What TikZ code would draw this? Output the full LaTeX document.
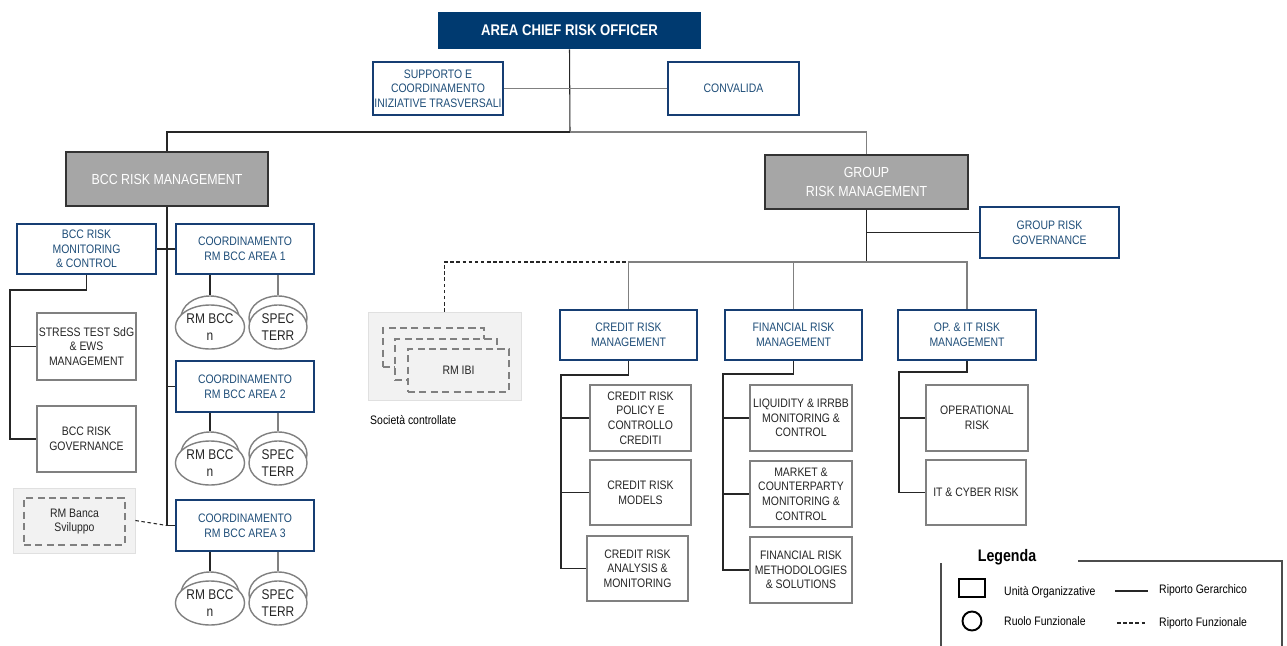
\documentclass[tikz,border=0pt]{standalone}
\usepackage{fontspec}
\setmainfont{Liberation Sans}[FakeStretch=0.85]
\usetikzlibrary{positioning,shapes.geometric}
\definecolor{navy}{RGB}{0,58,112}
\definecolor{unitblue}{RGB}{22,62,115}
\definecolor{unittext}{RGB}{31,78,121}
\definecolor{headgray}{RGB}{166,166,166}
\definecolor{panelgray}{RGB}{242,242,242}

\begin{document}
\begin{tikzpicture}[x=0.2mm,y=-0.2mm,
    every node/.style={font=\fontsize{7}{8.3}\selectfont, align=center, inner sep=0.5pt},
    sz/.style 2 args={minimum width=#1*0.2mm, minimum height=#2*0.2mm},
    unit/.style={draw=unitblue, line width=1.2pt, fill=white, text=unittext},
    office/.style={draw=gray, line width=0.8pt, fill=white, text=black!85},
    head/.style={draw=black!80, line width=0.9pt, fill=headgray, text=white, font=\fontsize{8.3}{10.4}\selectfont},
    role/.style={ellipse, draw=gray, line width=0.8pt, fill=white, text=black!85, sz={58}{44}, font=\fontsize{8}{9.4}\selectfont},
    panel/.style={fill=panelgray, draw=black!12, line width=0.4pt},
    ext/.style={draw=gray, line width=0.8pt, fill=panelgray, dash pattern=on 4pt off 2.5pt, text=black!85},
    link/.style={draw=black!85, line width=0.6pt},
    glink/.style={draw=gray, line width=0.6pt},
    flink/.style={link, dash pattern=on 2pt off 1.5pt}]
  \useasboundingbox (0,0) rectangle (1287,646);

  % top of the tree
  \node[fill=navy, text=white, sz={263}{37}, font=\bfseries\fontsize{8.8}{10}\selectfont] (aco) at (569.5,30.5) {AREA CHIEF RISK OFFICER};
  \node[unit, sz={130}{53}] (sup) at (438,88.5) {SUPPORTO E\\COORDINAMENTO\\INIZIATIVE TRASVERSALI};
  \node[unit, sz={131}{53}] (conv) at (733.5,88.5) {CONVALIDA};
  \node[head, sz={202}{54}] (bccrm) at (167,179) {BCC RISK MANAGEMENT};
  \node[head, sz={203}{54}] (grouprm) at (866.5,182) {GROUP\\RISK MANAGEMENT};

  % BCC side
  \node[unit, sz={139}{50}] (bccmon) at (86.5,249) {BCC RISK\\MONITORING\\\& CONTROL};
  \node[unit, sz={138}{50}] (coord1) at (245,249) {COORDINAMENTO\\RM BCC AREA 1};
  \node[unit, sz={138}{51}] (coord2) at (245,386.5) {COORDINAMENTO\\RM BCC AREA 2};
  \node[unit, sz={138}{51}] (coord3) at (245,525.5) {COORDINAMENTO\\RM BCC AREA 3};
  \node[office, sz={99}{67}] (stress) at (86.5,346.5) {STRESS TEST SdG\\\& EWS\\MANAGEMENT};
  \node[office, sz={99}{66}] (bccgov) at (86.5,439) {BCC RISK\\GOVERNANCE};

  \node[role] (rmb1) at (210,318) {};
  \node[role] (rmf1) at (210,327) {RM BCC\\n};
  \node[role] (spb1) at (278,318) {};
  \node[role] (spf1) at (278,327) {SPEC\\TERR};
  \node[role] (rmb2) at (210,454) {};
  \node[role] (rmf2) at (210,463) {RM BCC\\n};
  \node[role] (spb2) at (278,454) {};
  \node[role] (spf2) at (278,463) {SPEC\\TERR};
  \node[role] (rmb3) at (210,594) {};
  \node[role] (rmf3) at (210,603) {RM BCC\\n};
  \node[role] (spb3) at (278,594) {};
  \node[role] (spf3) at (278,603) {SPEC\\TERR};

  \node[panel, sz={122}{65}] (banca) at (74,520.5) {};
  \node[ext, sz={101}{47}] (bancarm) at (74.5,521.5) {RM Banca\\Sviluppo};

  % societa' controllate
  \node[panel, sz={153}{88}] (ibi) at (444.5,356) {};
  \node[ext, sz={101}{39}] (ibi1) at (433.5,347.5) {};
  \node[ext, sz={102}{41}] (ibi2) at (446,359.5) {};
  \node[ext, sz={101}{43}] (ibi3) at (458.5,370.5) {RM IBI};
  \node[anchor=west] (soc) at (369,420) {Società controllate};

  % group side
  \node[unit, sz={139}{51}] (gov) at (1049.5,232.5) {GROUP RISK\\GOVERNANCE};
  \node[unit, sz={137}{50}] (credit) at (628.5,335) {CREDIT RISK\\MANAGEMENT};
  \node[unit, sz={137}{50}] (fin) at (793.5,335) {FINANCIAL RISK\\MANAGEMENT};
  \node[unit, sz={138}{50}] (op) at (967,335) {OP. \& IT RISK\\MANAGEMENT};
  \node[office, sz={101}{66}] (crpol) at (640.5,418) {CREDIT RISK\\POLICY E\\CONTROLLO\\CREDITI};
  \node[office, sz={101}{65}] (crmod) at (640.5,492.5) {CREDIT RISK\\MODELS};
  \node[office, sz={101}{65}] (cran) at (637.5,568.5) {CREDIT RISK\\ANALYSIS \&\\MONITORING};
  \node[office, sz={102}{66}] (liq) at (801,418) {LIQUIDITY \& IRRBB\\MONITORING \&\\CONTROL};
  \node[office, sz={102}{66}] (mkt) at (801,494) {MARKET \&\\COUNTERPARTY\\MONITORING \&\\CONTROL};
  \node[office, sz={102}{66}] (frm) at (801,570) {FINANCIAL RISK\\METHODOLOGIES\\\& SOLUTIONS};
  \node[office, sz={102}{66}] (oper) at (977,418) {OPERATIONAL\\RISK};
  \node[office, sz={100}{65}] (itc) at (976,492.5) {IT \& CYBER RISK};

  % connectors
  \coordinate (jtop) at (570,132);
  \draw[link] (aco.south) -- (jtop);
  \draw[glink] (sup.east) -- (conv.west);
  \draw[link] (bccrm.north) |- (jtop);
  \draw[glink] (jtop) -| (grouprm.north);

  \coordinate (jbcc) at (bccrm.south |- coord3.west);
  \draw[link] (bccrm.south) -- (jbcc) -- (coord3.west);
  \draw[link] (bccmon.east) -- (coord1.west);
  \draw[link] (bccrm.south |- coord2.west) -- (coord2.west);
  \coordinate (jmon) at (10,290);
  \draw[link] (bccmon.south) |- (jmon) |- (bccgov.west);
  \draw[link] (jmon |- stress.west) -- (stress.west);
  \draw[flink] (banca.east) -- (jbcc);

  \draw[link] (coord1.south -| rmb1.north) -- (rmb1.north);
  \draw[glink] (coord1.south -| spb1.north) -- (spb1.north);
  \draw[link] (coord2.south -| rmb2.north) -- (rmb2.north);
  \draw[glink] (coord2.south -| spb2.north) -- (spb2.north);
  \draw[link] (coord3.south -| rmb3.north) -- (rmb3.north);
  \draw[glink] (coord3.south -| spb3.north) -- (spb3.north);

  \coordinate (jgrp) at (866.5,262);
  \draw[link] (grouprm.south) -- (jgrp);
  \draw[link] (grouprm.south |- gov.west) -- (gov.west);
  \draw[flink] (ibi.north) |- (jgrp);
  \draw[glink] (credit.north) |- (jgrp) -| (op.north);
  \draw[glink] (fin.north |- jgrp) -- (fin.north);

  \coordinate (jcr) at (561,375);
  \draw[link] (credit.south) |- (jcr) |- (cran.west);
  \draw[link] (jcr |- crpol.west) -- (crpol.west);
  \draw[link] (jcr |- crmod.west) -- (crmod.west);
  \coordinate (jfin) at (723,374);
  \draw[link] (fin.south) |- (jfin) |- (frm.west);
  \draw[link] (jfin |- liq.west) -- (liq.west);
  \draw[link] (jfin |- mkt.west) -- (mkt.west);
  \coordinate (jop) at (899,372);
  \draw[link] (op.south) |- (jop) |- (itc.west);
  \draw[link] (jop |- oper.west) -- (oper.west);

  % legenda
  \node[font=\bfseries\fontsize{9.5}{11}\selectfont] (leg) at (1007,557) {Legenda};
  \draw[line width=0.6pt, black!70] (941,646) -- (941,563);
  \draw[line width=0.6pt, black!70] (1078,561) -- (1282,561) -- (1282,646);
  \node[draw, line width=1.1pt, sz={26}{18}] (legunit) at (972,588) {};
  \node[anchor=west] (legunittxt) at (1003,592) {Unità Organizzative};
  \node[circle, draw, line width=1.1pt, minimum size=19*0.2mm] (legrole) at (972,621) {};
  \node[anchor=west] (legroletxt) at (1003,621) {Ruolo Funzionale};
  \coordinate (lgh1) at (1115,591);
  \coordinate (lgh2) at (1148,591);
  \draw[link] (lgh1) -- (lgh2);
  \node[anchor=west] (leggerar) at (1158,590) {Riporto Gerarchico};
  \coordinate (lgf1) at (1117,623);
  \coordinate (lgf2) at (1147,623);
  \draw[flink] (lgf1) -- (lgf2);
  \node[anchor=west] (legfunz) at (1158,623) {Riporto Funzionale};
\end{tikzpicture}
\end{document}
